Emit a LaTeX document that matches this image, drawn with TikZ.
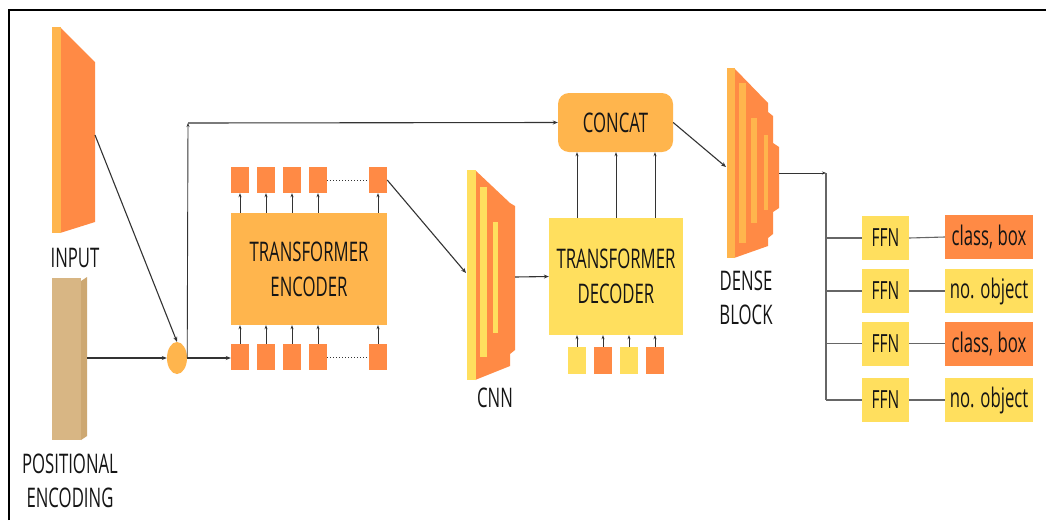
\documentclass[tikz,border=0pt]{standalone}
\usepackage{fontspec}
\setmainfont{Open Sans}[FakeStretch=0.62]
\usetikzlibrary{arrows.meta,shapes.geometric}
\definecolor{dorange}{HTML}{FF8A45}
\definecolor{lorange}{HTML}{FFB54D}
\definecolor{yel}{HTML}{FFDF5E}
\definecolor{tan}{HTML}{D8B684}
\definecolor{tanside}{HTML}{CDA872}
\definecolor{ink}{HTML}{151515}
\definecolor{wire}{HTML}{333333}
\tikzset{
  box/.style={inner sep=0pt, text=ink, font=\fontsize{27}{35}\selectfont, align=center},
  sq/.style={box, minimum width=18pt, minimum height=26pt, fill=dorange},
  ysq/.style={box, minimum width=18pt, minimum height=27pt, fill=yel},
  osq/.style={box, minimum width=18pt, minimum height=27pt, fill=dorange},
  ffn/.style={box, minimum width=47pt, minimum height=44pt, fill=yel, font=\fontsize{25}{28}\selectfont},
  outbox/.style={box, minimum width=88pt, minimum height=44pt, font=\fontsize{27}{30}\selectfont},
  lbl/.style={text=ink, font=\fontsize{27}{34}\selectfont, align=center, inner sep=0pt},
  arr/.style={draw=wire, line width=1.1pt, -{Stealth[length=5pt,width=4pt]}},
  sarr/.style={draw=wire, line width=0.9pt, -{Stealth[length=4pt,width=3pt]}},
  gln/.style={draw=black!60, line width=1.1pt},
}
\begin{document}
\begin{tikzpicture}[x=1pt,y=-1pt]
\useasboundingbox (0,0) rectangle (1046,520);
\fill[white] (0,0) rectangle (1046,520);
% frame
\draw[line width=2pt] (9,520) -- (9,10) -- (1046,10);

% INPUT slab
\fill[dorange] (60,27) -- (95,62) -- (95,222) -- (60,233) -- cycle;
\fill[lorange] (52,27) rectangle (61,233);
\coordinate (inp) at (95,135);
\node[lbl] (inputlbl) at (75,258) {INPUT};

% positional encoding block
\fill[tan] (52,278) rectangle (81,440);
\fill[tanside] (81,281) -- (87,277) -- (87,436) -- (81,440) -- cycle;
\coordinate (pe) at (87,358);
\node[lbl] (pelbl) at (70,481) {POSITIONAL\\ENCODING};

% adder
\node[ellipse, fill=lorange, minimum width=20pt, minimum height=32pt, inner sep=0pt] (add) at (177,358) {};

% encoder
\node[box, fill=lorange, minimum width=156pt, minimum height=112pt] (enc) at (309,269) {TRANSFORMER\\ENCODER};
\foreach \i/\x in {1/240,2/266,3/292,4/318,5/378}{
  \node[sq] (et\i) at (\x,180) {};
  \node[sq] (eb\i) at (\x,357) {};
  \draw[sarr] (enc.north -| et\i) -- (et\i.south);
  \draw[sarr] (eb\i.north) -- (enc.south -| eb\i);
}
\draw[wire, line width=1pt, dotted] (et4.east) -- (et5.west);
\draw[wire, line width=1pt, dotted] (eb4.east) -- (eb5.west);

% CNN
\fill[dorange] (475,170) -- (510,203) -- (515,206) -- (515,350) -- (510,354) -- (510,366) -- (475,380) -- cycle;
\fill[yel] (467,170) rectangle (476,380);
\fill[yel] (480,187) rectangle (487,357);
\fill[yel] (493,222) rectangle (498,333);
\coordinate (cnnin) at (466,273);
\coordinate (cnnout) at (515,277);
\node[lbl] (cnnlbl) at (495,398) {CNN};

% decoder
\node[box, fill=yel, minimum width=134pt, minimum height=117pt] (dec) at (616,276.5) {TRANSFORMER\\DECODER};
\node[ysq] (d1) at (577,360.5) {};
\node[osq] (d2) at (603,360.5) {};
\node[ysq] (d3) at (629,360.5) {};
\node[osq] (d4) at (655,360.5) {};
\foreach \i in {1,...,4}{
  \draw[sarr] (d\i.north) -- (dec.south -| d\i);
}

% concat
\node[box, fill=lorange, rounded corners=11pt, minimum width=115pt, minimum height=59pt] (concat) at (615.5,122.5) {CONCAT};
\foreach \x in {577,616,655}{
  \draw[sarr] (dec.north -| \x,0) -- (concat.south -| \x,0);
}

% dense block
\fill[dorange] (734,68) -- (768,103) -- (768,112) -- (773,116) -- (773,143) -- (779,147) -- (779,208) -- (773,212) -- (773,234) -- (768,238) -- (768,246) -- (734,258) -- cycle;
\fill[lorange] (727,68) rectangle (735,258);
\fill[lorange] (739,83) rectangle (746,243);
\fill[lorange] (751,118) rectangle (757,223);
\fill[lorange] (764,135) rectangle (768,210);
\coordinate (densein) at (726,167);
\coordinate (denseout) at (779,173);
\node[lbl] (denselbl) at (746,298) {DENSE\\BLOCK};

% heads
\coordinate (junc) at (826,173);
\coordinate (jend) at (826,400);
\node[ffn] (f1) at (885.5,238) {FFN};
\node[ffn] (f2) at (885.5,291) {FFN};
\node[ffn] (f3) at (885.5,343.5) {FFN};
\node[ffn] (f4) at (885.5,400) {FFN};
\node[outbox, fill=dorange] (o1) at (989,237) {class, box};
\node[outbox, fill=yel] (o2) at (989,291) {no. object};
\node[outbox, fill=dorange] (o3) at (989,343.5) {class, box};
\node[outbox, fill=yel] (o4) at (989,400) {no. object};

% connectors
\draw[arr] (inp) -- (add.north);
\draw[arr] (pe) -- (add.west);
\draw[arr] (add.east) -- (add.east -| eb1.west);
\coordinate (corner) at (188,123);
\draw[sarr] (add.east) -- (corner);
\draw[arr] (corner) -- (concat.west);
\draw[arr] (et5.east) -- (cnnin);
\draw[arr] (cnnout) -- (dec.west);
\draw[arr] (concat.east) -- (densein);
\draw[sarr] (denseout) -- (junc);
\draw[gln] (junc) -- (jend);
\foreach \i in {1,...,4}{
  \draw[gln] (junc |- f\i.west) -- (f\i.west);
  \draw[gln] (f\i.east) -- (o\i.west);
}
\end{tikzpicture}
\end{document}
